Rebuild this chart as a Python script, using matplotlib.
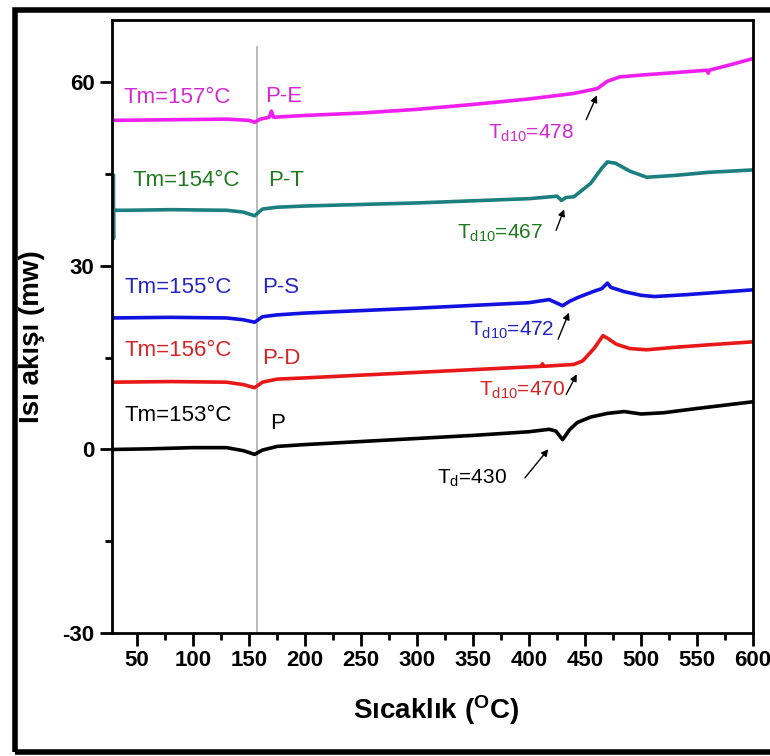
import matplotlib
matplotlib.use('Agg')
import matplotlib.pyplot as plt
from matplotlib.patches import Rectangle

plt.rcParams['font.family'] = ['Liberation Sans', 'DejaVu Sans']
plt.rcParams['axes.unicode_minus'] = False
plt.rcParams['mathtext.fontset'] = 'custom'
plt.rcParams['mathtext.rm'] = 'Liberation Sans'
plt.rcParams['mathtext.it'] = 'Liberation Sans'
plt.rcParams['mathtext.bf'] = 'Liberation Sans:bold'
plt.rcParams['mathtext.default'] = 'regular'

# P (siyah)
t_p = [28, 60, 100, 130, 145, 155, 162, 175, 200, 250, 300, 350, 400, 418, 424, 430, 436, 443, 455, 470, 485, 500, 520, 550, 600]
y_p = [0, 0.1, 0.3, 0.3, -0.2, -0.8, -0.1, 0.5, 0.8, 1.3, 1.8, 2.3, 2.9, 3.3, 3.0, 1.6, 3.2, 4.4, 5.3, 5.9, 6.2, 5.8, 6.0, 6.7, 7.8]

# P-D (kirmizi)
t_pd = [28, 80, 130, 145, 155, 162, 175, 200, 300, 400, 411, 412, 413, 440, 448, 458, 466, 470, 478, 490, 505, 530, 560, 600]
y_pd = [11.0, 11.1, 11.0, 10.6, 10.1, 11.0, 11.5, 11.7, 12.6, 13.5, 13.6, 14.0, 13.6, 13.9, 14.5, 16.5, 18.6, 18.2, 17.2, 16.5, 16.3, 16.7, 17.1, 17.6]

# P-S (mavi)
t_ps = [28, 80, 130, 145, 155, 162, 175, 200, 300, 400, 418, 430, 436, 443, 457, 465, 470, 473, 485, 500, 512, 540, 570, 600]
y_ps = [21.5, 21.6, 21.5, 21.2, 20.8, 21.7, 22.0, 22.3, 23.1, 24.0, 24.5, 23.5, 24.2, 24.8, 25.8, 26.3, 27.2, 26.5, 25.8, 25.2, 25.0, 25.3, 25.7, 26.1]

# P-T (yesil)
t_pt = [29, 29, 29, 40, 80, 130, 145, 155, 162, 175, 200, 300, 400, 425, 429, 433, 440, 455, 465, 470, 477, 490, 505, 530, 560, 600]
y_pt = [44.8, 34.5, 39.1, 39.1, 39.2, 39.1, 38.8, 38.2, 39.3, 39.6, 39.8, 40.3, 41.0, 41.4, 40.7, 41.2, 41.3, 43.5, 46.0, 47.0, 46.8, 45.5, 44.5, 44.8, 45.3, 45.7]

# P-E (mor)
t_pe = [28, 80, 130, 150, 155, 160, 168, 170, 172, 180, 200, 250, 300, 350, 400, 440, 461, 470, 481, 500, 530, 559, 560, 561, 580, 600]
y_pe = [53.8, 53.9, 54.0, 53.8, 53.5, 54.0, 54.3, 55.3, 54.3, 54.4, 54.6, 55.0, 55.6, 56.4, 57.3, 58.2, 59.0, 60.2, 60.9, 61.2, 61.6, 62.0, 61.5, 62.0, 62.9, 63.9]

xticks = [50, 100, 150, 200, 250, 300, 350, 400, 450, 500, 550, 600]
yticks = [-30, 0, 30, 60]

fig = plt.figure(figsize=(7.7, 7.56), dpi=100)
ax = fig.add_axes([0.1455, 0.1627, 0.8325, 0.8108])

ax.axvline(157, ymax=0.956, color='#b4b4b4', lw=1.3, zorder=1)

ax.plot(t_p, y_p, color='black', lw=2.6)
ax.plot(t_pd, y_pd, color='#e81818', lw=2.6)
ax.plot(t_ps, y_ps, color='#1212e0', lw=2.6)
ax.plot(t_pt, y_pt, color='#1c7f7f', lw=2.6)
ax.plot(t_pe, y_pe, color='#f01ef0', lw=2.6)

fs = 16
ax.text(37.5, 57.6, 'Tm=157°C', color='#d428d4', fontsize=fs, va='center')
ax.text(164, 57.7, 'P-E', color='#d428d4', fontsize=fs, va='center')
ax.text(46.4, 44.0, 'Tm=154°C', color='#1f7a1f', fontsize=fs, va='center')
ax.text(167, 44.0, 'P-T', color='#1f7a1f', fontsize=fs, va='center')
ax.text(38.4, 26.5, 'Tm=155°C', color='#2424c4', fontsize=fs, va='center')
ax.text(161.6, 26.5, 'P-S', color='#2424c4', fontsize=fs, va='center')
ax.text(38.4, 16.2, 'Tm=156°C', color='#d42424', fontsize=fs, va='center')
ax.text(161.6, 14.9, 'P-D', color='#d42424', fontsize=fs, va='center')
ax.text(38.4, 5.6, 'Tm=153°C', color='black', fontsize=fs, va='center')
ax.text(168.8, 4.3, 'P', color='black', fontsize=fs, va='center')

arr = dict(arrowstyle='-|>', color='black', lw=1.0, mutation_scale=10)
ax.annotate('', xy=(461.6, 58.3), xytext=(450, 53.5), arrowprops=arr)
ax.annotate('', xy=(432.2, 39.7), xytext=(423.3, 35.4), arrowprops=arr)
ax.annotate('', xy=(436.6, 22.8), xytext=(425, 17.6), arrowprops=arr)
ax.annotate('', xy=(443.8, 12.7), xytext=(432, 8.6), arrowprops=arr)
ax.annotate('', xy=(418.8, 0.4), xytext=(394.7, -5.0), arrowprops=arr)

fs2 = 15
ax.text(363, 51.7, 'T$_{d10}$=478', color='#d428d4', fontsize=fs2, va='center')
ax.text(336, 35.4, 'T$_{d10}$=467', color='#1f7a1f', fontsize=fs2, va='center')
ax.text(346, 19.5, 'T$_{d10}$=472', color='#2424c4', fontsize=fs2, va='center')
ax.text(355, 9.7, 'T$_{d10}$=470', color='#d42424', fontsize=fs2, va='center')
ax.text(318, -4.7, 'T$_{d}$=430', color='black', fontsize=fs2, va='center')

ax.set_xlim(27.7, 600)
ax.set_ylim(-30, 70.2)
ax.set_xticks(xticks)
ax.set_xticks(range(75, 600, 50), minor=True)
ax.set_yticks(yticks)
ax.set_yticks([-15, 15, 45], minor=True)
ax.tick_params(which='major', direction='out', length=9, width=2, labelsize=16)
ax.tick_params(which='minor', direction='out', length=5, width=2)
for lab in ax.get_xticklabels() + ax.get_yticklabels():
    lab.set_fontweight('bold')
for s in ax.spines.values():
    s.set_linewidth(2)

ax.set_xlabel('Sıcaklık ($^{O}$C)', fontsize=20, fontweight='bold', va='center')
ax.set_ylabel('Isı akışı (mw)', fontsize=20, fontweight='bold', va='center')
ax.xaxis.set_label_coords(0.505, -0.125)
ax.yaxis.set_label_coords(-0.125, 0.483)

fig.patches.append(Rectangle((0.0195, 0.005), 1.1, 0.982, transform=fig.transFigure,
                             fill=False, lw=4, edgecolor='black', clip_on=False))

fig.savefig('out.png', dpi=100)
